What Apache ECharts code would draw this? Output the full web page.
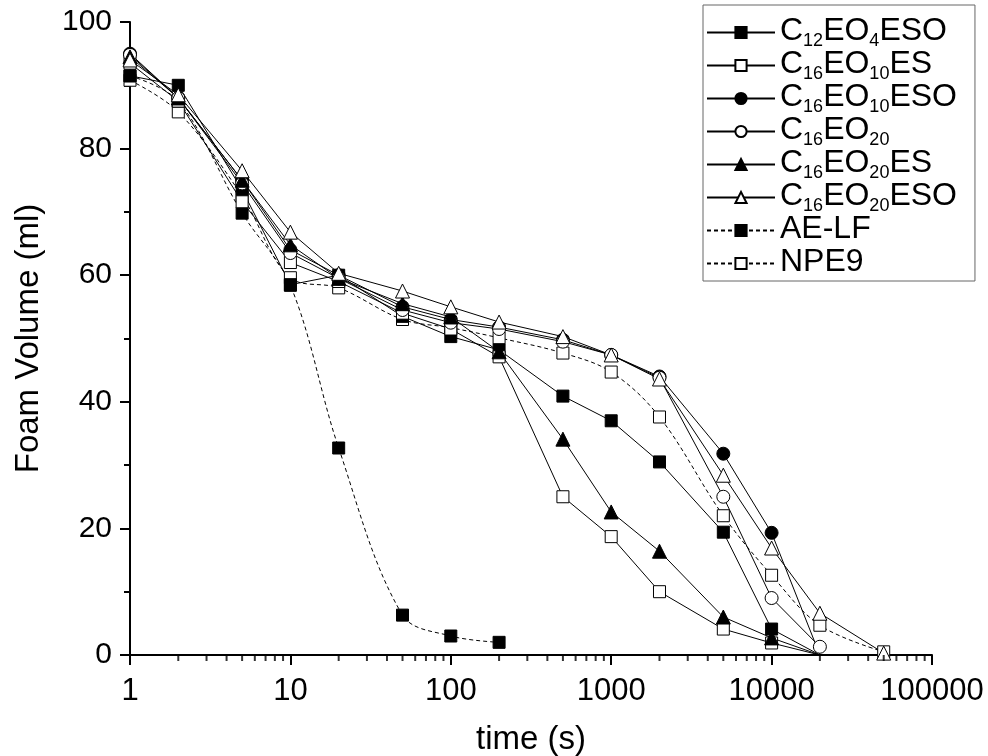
<!DOCTYPE html>
<html>
<head>
<meta charset="utf-8">
<script src="https://cdn.jsdelivr.net/npm/echarts@6.0.0/dist/echarts.min.js"></script>
<style>
  html, body { margin: 0; padding: 0; background: #fff; }
  #chart { width: 988px; height: 756px; }
</style>
</head>
<body>
<div id="chart"></div>
<script>
// time points (s), shared by all series
const TIMES = [1, 2, 5, 10, 20, 50, 100, 200, 500, 1000, 2000, 5000, 10000, 20000, 50000];

// foam volume (ml)
const C12EO4ESO  = [91.5, 90, 73.5, 58.5, 60, 53.5, 50.3, 48.2, 40.9, 37, 30.5, 19.4, 4.1, 0];
const C16EO10ES  = [93.5, 87.5, 71.6, 62, 59, 54, 51.5, 47.1, 25, 18.7, 10, 4.1, 1.9, 0];
const C16EO10ESO = [95, 88, 75, 64, 60, 55, 53, 51.8, 49.8, 47.4, 44, 31.8, 19.3, 0];
const C16EO20    = [94.8, 88, 74.5, 63.5, 59.5, 54.5, 52.5, 51.5, 49.5, 47.4, 43.8, 25, 9, 1.3];
const C16EO20ES  = [94.5, 88, 75, 64.8, 59.5, 55.5, 53.4, 47.9, 34.1, 22.6, 16.4, 6, 2.7, 0];
const C16EO20ESO = [94, 88.5, 76.5, 66.8, 60.3, 57.5, 55, 52.6, 50.3, 47.4, 43.6, 28.4, 16.9, 6.6, 0.3];
const AE_LF      = [91.5, 87.5, 69.8, 58.4, 32.7, 6.3, 3, 2];
const NPE9       = [90.8, 85.8, 72.5, 59.6, 58, 53, 51.7, 50.1, 47.7, 44.7, 37.6, 22, 12.6, 4.7, 0.5];

const SERIES_NAMES = ['C12EO4ESO', 'C16EO10ES', 'C16EO10ESO', 'C16EO20', 'C16EO20ES', 'C16EO20ESO', 'AE-LF', 'NPE9'];
const LEGEND_LABELS = [
  '{m|C}{s|12}{m|EO}{s|4}{m|ESO}',
  '{m|C}{s|16}{m|EO}{s|10}{m|ES}',
  '{m|C}{s|16}{m|EO}{s|10}{m|ESO}',
  '{m|C}{s|16}{m|EO}{s|20}',
  '{m|C}{s|16}{m|EO}{s|20}{m|ES}',
  '{m|C}{s|16}{m|EO}{s|20}{m|ESO}',
  '{m|AE-LF}{s| }',
  '{m|NPE9}{s| }'
];

const Y_TICKS = [0, 20, 40, 60, 80, 100];
const X_DECADES = [1, 10, 100, 1000, 10000];

const FONT = "'Liberation Sans', Arial, sans-serif";

// minor ticks of the log axis at 2..9 of every decade
const minorTicks = [];
X_DECADES.forEach(d => {
  for (let k = 2; k <= 9; k++) minorTicks.push([d * k, 0]);
});

// points sitting on the x axis have their marker hidden behind it
function pairs(values) {
  return values.map((v, i) => {
    const item = { value: [TIMES[i], v] };
    if (v === 0) item.symbol = 'none';
    return item;
  });
}

function makeSeries(name, values, symbol, filled, dashed) {
  return {
    name: name,
    type: 'line',
    data: pairs(values),
    symbol: symbol,
    symbolSize: symbol === 'triangle' ? 14 : (symbol === 'circle' ? 13 : 12),
    smooth: dashed ? 0.35 : false,
    lineStyle: { color: '#000', width: 1, type: dashed ? [4, 3] : 'solid' },
    itemStyle: { color: filled ? '#000' : '#fff', borderColor: '#000', borderWidth: 1 },
    emphasis: { disabled: true },
    clip: false,
    z: 3
  };
}

const chart = echarts.init(document.getElementById('chart'), null, { renderer: 'canvas' });

chart.setOption({
  animation: false,
  backgroundColor: '#fff',
  textStyle: { fontFamily: FONT, color: '#000' },
  grid: { left: 130, right: 56, top: 22, bottom: 101, outerBoundsMode: 'none' },
  legend: {
    data: SERIES_NAMES,
    orient: 'vertical',
    left: 703,
    top: 5,
    itemWidth: 68,
    itemHeight: 14,
    itemGap: -2,
    padding: [10, 18, 0, 3],
    backgroundColor: '#fff',
    borderColor: '#666',
    borderWidth: 1,
    borderRadius: 0,
    formatter: name => LEGEND_LABELS[SERIES_NAMES.indexOf(name)],
    textStyle: {
      fontFamily: FONT,
      color: '#000',
      rich: {
        m: { fontFamily: FONT, fontSize: 32, color: '#000', verticalAlign: 'top' },
        s: { fontFamily: FONT, fontSize: 18, color: '#000', padding: [17, 0, 0, 0], verticalAlign: 'top' }
      }
    }
  },
  xAxis: {
    type: 'log',
    logBase: 10,
    min: 1,
    max: 100000,
    name: 'time (s)',
    nameLocation: 'middle',
    nameGap: 68,
    nameTextStyle: { fontFamily: FONT, fontSize: 33, color: '#000' },
    axisLine: { lineStyle: { color: '#000', width: 2 } },
    axisTick: { show: true, length: 10, lineStyle: { color: '#000', width: 2 } },
    axisLabel: {
      fontFamily: FONT, fontSize: 31, color: '#000', margin: 21,
      formatter: v => String(Math.round(v))
    },
    splitLine: { show: false }
  },
  yAxis: {
    type: 'value',
    min: 0,
    max: 100,
    interval: 20,
    name: 'Foam Volume (ml)',
    nameLocation: 'middle',
    nameGap: 85,
    nameTextStyle: { fontFamily: FONT, fontSize: 33, color: '#000' },
    axisLine: { show: true, lineStyle: { color: '#000', width: 2 } },
    axisTick: { show: true, length: 10, lineStyle: { color: '#000', width: 2 } },
    minorTick: { show: true, splitNumber: 2, length: 6, lineStyle: { color: '#000', width: 2 } },
    axisLabel: {
      fontFamily: FONT, fontSize: 30, color: '#000', margin: 18,
      formatter: v => (Y_TICKS.indexOf(v) >= 0 ? String(v) : '')
    },
    splitLine: { show: false }
  },
  series: [
    makeSeries('NPE9', NPE9, 'rect', false, true),
    makeSeries('AE-LF', AE_LF, 'rect', true, true),
    makeSeries('C12EO4ESO', C12EO4ESO, 'rect', true, false),
    makeSeries('C16EO10ES', C16EO10ES, 'rect', false, false),
    makeSeries('C16EO10ESO', C16EO10ESO, 'circle', true, false),
    makeSeries('C16EO20', C16EO20, 'circle', false, false),
    makeSeries('C16EO20ES', C16EO20ES, 'triangle', true, false),
    makeSeries('C16EO20ESO', C16EO20ESO, 'triangle', false, false),
    {
      name: 'minor',
      type: 'scatter',
      data: minorTicks,
      symbol: 'rect',
      symbolSize: [2, 6],
      symbolOffset: [0, 3],
      itemStyle: { color: '#000' },
      silent: true,
      clip: false,
      z: 10
    }
  ]
});
</script>
</body>
</html>
